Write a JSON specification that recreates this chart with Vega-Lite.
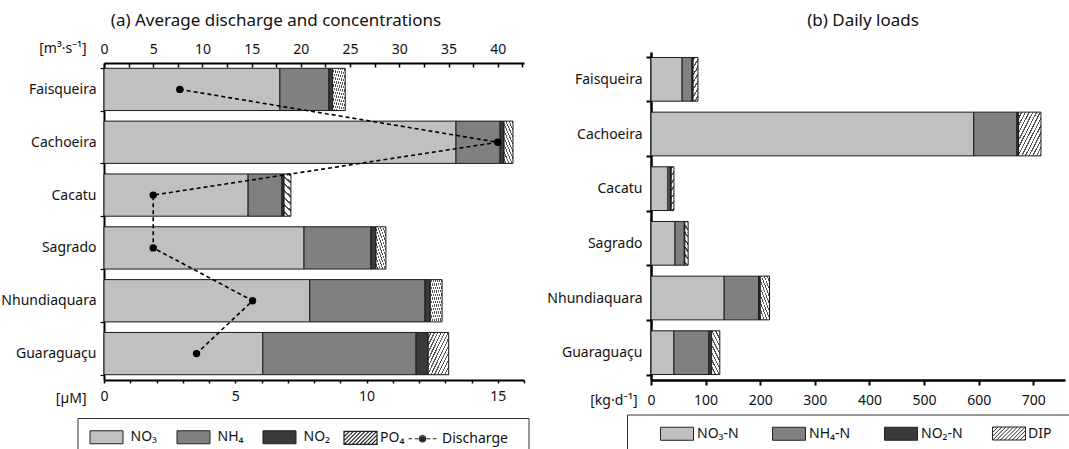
{
  "$schema": "https://vega.github.io/schema/vega-lite/v6.json",
  "background": "white",
  "padding": {"left": 0, "top": 12, "right": 0, "bottom": 0},
  "spacing": 17,
  "datasets": {
    "conc": [
      {"river": "Faisqueira", "series": "NO₃", "k": 1, "value": 6.70},
      {"river": "Faisqueira", "series": "NH₄", "k": 2, "value": 1.87},
      {"river": "Faisqueira", "series": "NO₂", "k": 3, "value": 0.14},
      {"river": "Faisqueira", "series": "PO₄", "k": 4, "value": 0.48},
      {"river": "Cachoeira", "series": "NO₃", "k": 1, "value": 13.41},
      {"river": "Cachoeira", "series": "NH₄", "k": 2, "value": 1.68},
      {"river": "Cachoeira", "series": "NO₂", "k": 3, "value": 0.15},
      {"river": "Cachoeira", "series": "PO₄", "k": 4, "value": 0.34},
      {"river": "Cacatu", "series": "NO₃", "k": 1, "value": 5.49},
      {"river": "Cacatu", "series": "NH₄", "k": 2, "value": 1.29},
      {"river": "Cacatu", "series": "NO₂", "k": 3, "value": 0.08},
      {"river": "Cacatu", "series": "PO₄", "k": 4, "value": 0.26},
      {"river": "Sagrado", "series": "NO₃", "k": 1, "value": 7.62},
      {"river": "Sagrado", "series": "NH₄", "k": 2, "value": 2.55},
      {"river": "Sagrado", "series": "NO₂", "k": 3, "value": 0.19},
      {"river": "Sagrado", "series": "PO₄", "k": 4, "value": 0.38},
      {"river": "Nhundiaquara", "series": "NO₃", "k": 1, "value": 7.84},
      {"river": "Nhundiaquara", "series": "NH₄", "k": 2, "value": 4.39},
      {"river": "Nhundiaquara", "series": "NO₂", "k": 3, "value": 0.20},
      {"river": "Nhundiaquara", "series": "PO₄", "k": 4, "value": 0.45},
      {"river": "Guaraguaçu", "series": "NO₃", "k": 1, "value": 6.05},
      {"river": "Guaraguaçu", "series": "NH₄", "k": 2, "value": 5.84},
      {"river": "Guaraguaçu", "series": "NO₂", "k": 3, "value": 0.46},
      {"river": "Guaraguaçu", "series": "PO₄", "k": 4, "value": 0.78}
    ],
    "discharge": [
      {"river": "Faisqueira", "series": "Discharge", "i": 1, "q": 7.7},
      {"river": "Cachoeira", "series": "Discharge", "i": 2, "q": 40.0},
      {"river": "Cacatu", "series": "Discharge", "i": 3, "q": 5.0},
      {"river": "Sagrado", "series": "Discharge", "i": 4, "q": 5.0},
      {"river": "Nhundiaquara", "series": "Discharge", "i": 5, "q": 15.1},
      {"river": "Guaraguaçu", "series": "Discharge", "i": 6, "q": 9.4}
    ],
    "loads": [
      {"river": "Faisqueira", "series": "NO₃-N", "k": 1, "value": 57},
      {"river": "Faisqueira", "series": "NH₄-N", "k": 2, "value": 18},
      {"river": "Faisqueira", "series": "NO₂-N", "k": 3, "value": 2},
      {"river": "Faisqueira", "series": "DIP", "k": 4, "value": 9},
      {"river": "Cachoeira", "series": "NO₃-N", "k": 1, "value": 591},
      {"river": "Cachoeira", "series": "NH₄-N", "k": 2, "value": 79},
      {"river": "Cachoeira", "series": "NO₂-N", "k": 3, "value": 3},
      {"river": "Cachoeira", "series": "DIP", "k": 4, "value": 41},
      {"river": "Cacatu", "series": "NO₃-N", "k": 1, "value": 31},
      {"river": "Cacatu", "series": "NH₄-N", "k": 2, "value": 4},
      {"river": "Cacatu", "series": "NO₂-N", "k": 3, "value": 2},
      {"river": "Cacatu", "series": "DIP", "k": 4, "value": 5},
      {"river": "Sagrado", "series": "NO₃-N", "k": 1, "value": 44},
      {"river": "Sagrado", "series": "NH₄-N", "k": 2, "value": 17},
      {"river": "Sagrado", "series": "NO₂-N", "k": 3, "value": 1},
      {"river": "Sagrado", "series": "DIP", "k": 4, "value": 6},
      {"river": "Nhundiaquara", "series": "NO₃-N", "k": 1, "value": 134},
      {"river": "Nhundiaquara", "series": "NH₄-N", "k": 2, "value": 63},
      {"river": "Nhundiaquara", "series": "NO₂-N", "k": 3, "value": 3},
      {"river": "Nhundiaquara", "series": "DIP", "k": 4, "value": 17},
      {"river": "Guaraguaçu", "series": "NO₃-N", "k": 1, "value": 42},
      {"river": "Guaraguaçu", "series": "NH₄-N", "k": 2, "value": 64},
      {"river": "Guaraguaçu", "series": "NO₂-N", "k": 3, "value": 5},
      {"river": "Guaraguaçu", "series": "DIP", "k": 4, "value": 15}
    ]
  },
  "hconcat": [
    {
      "width": 420,
      "height": 317,
      "title": {"text": "(a) Average discharge and concentrations", "fontSize": 17, "fontWeight": "normal", "font": "Noto Sans", "color": "#111", "anchor": "middle", "dx": -38, "offset": 11},
      "layer": [
        {
          "data": {"name": "conc"},
          "transform": [
            {"stack": "value", "groupby": ["river"], "sort": [{"field": "k", "order": "ascending"}], "as": ["v0", "v1"]},
            {"filter": "datum.k < 4"}
          ],
          "mark": {"type": "bar", "stroke": "#1a1a1a", "strokeWidth": 1},
          "encoding": {
            "y": {"field": "river", "type": "nominal", "sort": ["Faisqueira", "Cachoeira", "Cacatu", "Sagrado", "Nhundiaquara", "Guaraguaçu"], "title": null,
              "scale": {"paddingInner": 0.2, "paddingOuter": 0.1},
              "axis": {"domainWidth": 2, "domainColor": "#000", "tickBand": "extent", "tickSize": 4, "tickColor": "#000", "tickWidth": 1.2, "labelFontSize": 14, "labelColor": "#111", "labelPadding": 4, "labelLimit": 200}},
            "x": {"field": "v0", "type": "quantitative", "scale": {"domain": [0, 16], "nice": false},
              "axis": {"orient": "bottom", "values": [0, 1, 2, 3, 4, 5, 6, 7, 8, 9, 10, 11, 12, 13, 14, 15, 16], "labelExpr": "datum.value % 5 === 0 ? datum.label : ''", "labelOverlap": false, "labelFlush": false, "grid": false,
                "title": "[µM]", "titleX": -18, "titleY": 18, "titleAlign": "right", "titleBaseline": "middle", "titleFontSize": 14, "titleFontWeight": "normal", "titleColor": "#111",
                "domainWidth": 2, "domainColor": "#000", "tickSize": 3, "tickWidth": 1.5, "tickColor": "#000", "labelFontSize": 14, "labelColor": "#111", "labelPadding": 6}},
            "x2": {"field": "v1"},
            "color": {"field": "series", "type": "nominal",
              "scale": {"domain": ["NO₃", "NH₄", "NO₂"], "range": ["#c0c0c0", "#808080", "#3a3a3a"]},
              "legend": {"orient": "none", "legendX": -26.5, "legendY": 355, "direction": "horizontal", "title": "\u00a0", "titleOrient": "right", "titlePadding": 187, "titleFontSize": 14,
                "strokeColor": "#333", "padding": 12, "columnPadding": 17, "labelOffset": 17,
                "symbolType": "M-2.54,-1H2.54V1H-2.54Z", "symbolSize": 169, "symbolOffset": 10, "symbolStrokeColor": "#222", "symbolStrokeWidth": 1,
                "labelFontSize": 14, "labelColor": "#111"
              }}
          }
        },
        {
          "data": {"name": "conc"},
          "transform": [
            {"stack": "value", "groupby": ["river"], "sort": [{"field": "k", "order": "ascending"}], "as": ["v0", "v1"]},
            {"filter": "datum.k === 4"}
          ],
          "mark": {"type": "bar", "stroke": "#1a1a1a", "strokeWidth": 1,
            "fill": {"gradient": "linear", "x1": 0, "y1": 0, "x2": 1, "y2": 1, "stops": [{"offset": 0, "color": "#ffffff"}, {"offset": 0.055, "color": "#ffffff"}, {"offset": 0.055, "color": "#555555"}, {"offset": 0.0833, "color": "#555555"}, {"offset": 0.0833, "color": "#ffffff"}, {"offset": 0.1383, "color": "#ffffff"}, {"offset": 0.1383, "color": "#555555"}, {"offset": 0.1667, "color": "#555555"}, {"offset": 0.1667, "color": "#ffffff"}, {"offset": 0.2217, "color": "#ffffff"}, {"offset": 0.2217, "color": "#555555"}, {"offset": 0.25, "color": "#555555"}, {"offset": 0.25, "color": "#ffffff"}, {"offset": 0.305, "color": "#ffffff"}, {"offset": 0.305, "color": "#555555"}, {"offset": 0.3333, "color": "#555555"}, {"offset": 0.3333, "color": "#ffffff"}, {"offset": 0.3883, "color": "#ffffff"}, {"offset": 0.3883, "color": "#555555"}, {"offset": 0.4167, "color": "#555555"}, {"offset": 0.4167, "color": "#ffffff"}, {"offset": 0.4717, "color": "#ffffff"}, {"offset": 0.4717, "color": "#555555"}, {"offset": 0.5, "color": "#555555"}, {"offset": 0.5, "color": "#ffffff"}, {"offset": 0.555, "color": "#ffffff"}, {"offset": 0.555, "color": "#555555"}, {"offset": 0.5833, "color": "#555555"}, {"offset": 0.5833, "color": "#ffffff"}, {"offset": 0.6383, "color": "#ffffff"}, {"offset": 0.6383, "color": "#555555"}, {"offset": 0.6667, "color": "#555555"}, {"offset": 0.6667, "color": "#ffffff"}, {"offset": 0.7217, "color": "#ffffff"}, {"offset": 0.7217, "color": "#555555"}, {"offset": 0.75, "color": "#555555"}, {"offset": 0.75, "color": "#ffffff"}, {"offset": 0.805, "color": "#ffffff"}, {"offset": 0.805, "color": "#555555"}, {"offset": 0.8333, "color": "#555555"}, {"offset": 0.8333, "color": "#ffffff"}, {"offset": 0.8883, "color": "#ffffff"}, {"offset": 0.8883, "color": "#555555"}, {"offset": 0.9167, "color": "#555555"}, {"offset": 0.9167, "color": "#ffffff"}, {"offset": 0.9717, "color": "#ffffff"}, {"offset": 0.9717, "color": "#555555"}, {"offset": 1, "color": "#555555"}]}},
          "encoding": {
            "y": {"field": "river", "type": "nominal", "sort": ["Faisqueira", "Cachoeira", "Cacatu", "Sagrado", "Nhundiaquara", "Guaraguaçu"]},
            "x": {"field": "v0", "type": "quantitative", "scale": {"domain": [0, 16], "nice": false}, "axis": null},
            "x2": {"field": "v1"}
          }
        },
        {
          "data": {"name": "discharge"},
          "mark": {"type": "line", "color": "#000000", "strokeDash": [4, 3], "strokeWidth": 1.6, "point": {"filled": true, "size": 55, "color": "#000000", "opacity": 1}},
          "encoding": {
            "y": {"field": "river", "type": "nominal", "sort": ["Faisqueira", "Cachoeira", "Cacatu", "Sagrado", "Nhundiaquara", "Guaraguaçu"]},
            "x": {"field": "q", "type": "quantitative", "scale": {"domain": [0, 42.667], "nice": false},
              "axis": {"orient": "top", "values": [0, 2.5, 5, 7.5, 10, 12.5, 15, 17.5, 20, 22.5, 25, 27.5, 30, 32.5, 35, 37.5, 40, 42.5], "labelExpr": "datum.value % 5 === 0 ? datum.label : ''", "labelOverlap": false, "labelFlush": false, "grid": false,
                "title": "[m³·s⁻¹]", "titleX": -18, "titleY": -15, "titleAlign": "right", "titleBaseline": "middle", "titleFontSize": 14, "titleFontWeight": "normal", "titleColor": "#111",
                "domainWidth": 2, "domainColor": "#000", "tickSize": -4, "tickWidth": 1.5, "tickColor": "#000", "labelFontSize": 14, "labelColor": "#111", "labelPadding": 11}},
            "order": {"field": "i"}
          }
        },
        {
          "data": {"name": "discharge"},
          "mark": {"type": "point", "filled": false, "opacity": 0, "color": "#000000", "strokeWidth": 1.2},
          "encoding": {
            "y": {"field": "river", "type": "nominal", "sort": ["Faisqueira", "Cachoeira", "Cacatu", "Sagrado", "Nhundiaquara", "Guaraguaçu"]},
            "x": {"field": "q", "type": "quantitative", "scale": {"domain": [0, 42.667], "nice": false}, "axis": null},
            "shape": {"field": "series", "type": "nominal",
              "scale": {"domain": ["PO₄", "Discharge"], "range": [
                "M-2.54,-1H2.54V1H-2.54Z M-2.54,-0.76L-2.3,-1 M-2.54,-0.16L-1.7,-1 M-2.54,0.44L-1.1,-1 M-2.5,1L-0.5,-1 M-1.9,1L0.1,-1 M-1.3,1L0.7,-1 M-0.7,1L1.3,-1 M-0.1,1L1.9,-1 M0.5,1L2.5,-1 M1.1,1L2.54,-0.44 M1.7,1L2.54,0.16 M2.3,1L2.54,0.76",
                "M-2.15,0H-1.6M-1.2,0H-0.65M0.65,0H1.2M1.6,0H2.15M0.5,0A0.5,0.5,0,1,1,-0.5,0A0.5,0.5,0,1,1,0.5,0M0.3,0A0.3,0.3,0,1,1,-0.3,0A0.3,0.3,0,1,1,0.3,0M0.12,0A0.12,0.12,0,1,1,-0.12,0A0.12,0.12,0,1,1,0.12,0"
              ]},
              "legend": {"orient": "none", "legendX": 239, "legendY": 367, "direction": "horizontal", "title": null, "padding": 0, "columnPadding": -16,
                "symbolSize": 169, "symbolOffset": 10, "symbolOpacity": 1, "symbolStrokeColor": "#222222", "symbolStrokeWidth": 1.2,
                "labelOffset": 12, "labelFontSize": 14, "labelColor": "#111"}}
          }
        }
      ],
      "resolve": {"scale": {"x": "independent"}}
    },
    {
      "width": 414,
      "height": 317,
      "title": {"text": "(b) Daily loads", "fontSize": 17, "fontWeight": "normal", "font": "Noto Sans", "color": "#111", "anchor": "middle", "dx": 5, "offset": 26},
      "layer": [
        {
          "data": {"name": "loads"},
          "transform": [
            {"stack": "value", "groupby": ["river"], "sort": [{"field": "k", "order": "ascending"}], "as": ["v0", "v1"]},
            {"filter": "datum.k < 4"}
          ],
          "mark": {"type": "bar", "stroke": "#1a1a1a", "strokeWidth": 1},
          "encoding": {
            "y": {"field": "river", "type": "nominal", "sort": ["Faisqueira", "Cachoeira", "Cacatu", "Sagrado", "Nhundiaquara", "Guaraguaçu"], "title": null,
              "scale": {"paddingInner": 0.2, "paddingOuter": 0.1, "range": [-11, 317]},
              "axis": {"domainWidth": 2.5, "domainColor": "#000", "tickBand": "extent", "tickSize": 5, "tickColor": "#000", "tickWidth": 2, "labelFontSize": 14, "labelColor": "#111", "labelPadding": 4, "labelLimit": 200}},
            "x": {"field": "v0", "type": "quantitative", "scale": {"domain": [0, 758], "nice": false},
              "axis": {"orient": "bottom", "values": [0, 100, 200, 300, 400, 500, 600, 700], "labelOverlap": false, "labelFlush": false, "grid": false,
                "title": "[kg·d⁻¹]", "titleX": -14, "titleY": 20, "titleAlign": "right", "titleBaseline": "middle", "titleFontSize": 14, "titleFontWeight": "normal", "titleColor": "#111",
                "domainWidth": 2.5, "domainColor": "#000", "tickSize": 5, "tickWidth": 2, "tickColor": "#000", "labelFontSize": 14, "labelColor": "#111", "labelPadding": 8}},
            "x2": {"field": "v1"},
            "color": {"field": "series", "type": "nominal",
              "scale": {"domain": ["NO₃-N", "NH₄-N", "NO₂-N"], "range": ["#c0c0c0", "#808080", "#3a3a3a"]},
              "legend": {"orient": "none", "legendX": -24, "legendY": 351.5, "direction": "horizontal", "title": "\u00a0", "titleOrient": "right", "titlePadding": 160, "titleFontSize": 14,
                "strokeColor": "#333", "padding": 12, "columnPadding": 12, "labelOffset": 13, "gridAlign": "all",
                "symbolType": "M-2.54,-1H2.54V1H-2.54Z", "symbolSize": 169, "symbolOffset": 31, "symbolStrokeColor": "#222", "symbolStrokeWidth": 1,
                "labelFontSize": 14, "labelColor": "#111"
              }}
          }
        },
        {
          "data": {"name": "loads"},
          "transform": [
            {"stack": "value", "groupby": ["river"], "sort": [{"field": "k", "order": "ascending"}], "as": ["v0", "v1"]},
            {"filter": "datum.k === 4"}
          ],
          "mark": {"type": "bar", "stroke": "#1a1a1a", "strokeWidth": 1,
            "fill": {"gradient": "linear", "x1": 0, "y1": 0, "x2": 1, "y2": 1, "stops": [{"offset": 0, "color": "#ffffff"}, {"offset": 0.055, "color": "#ffffff"}, {"offset": 0.055, "color": "#555555"}, {"offset": 0.0833, "color": "#555555"}, {"offset": 0.0833, "color": "#ffffff"}, {"offset": 0.1383, "color": "#ffffff"}, {"offset": 0.1383, "color": "#555555"}, {"offset": 0.1667, "color": "#555555"}, {"offset": 0.1667, "color": "#ffffff"}, {"offset": 0.2217, "color": "#ffffff"}, {"offset": 0.2217, "color": "#555555"}, {"offset": 0.25, "color": "#555555"}, {"offset": 0.25, "color": "#ffffff"}, {"offset": 0.305, "color": "#ffffff"}, {"offset": 0.305, "color": "#555555"}, {"offset": 0.3333, "color": "#555555"}, {"offset": 0.3333, "color": "#ffffff"}, {"offset": 0.3883, "color": "#ffffff"}, {"offset": 0.3883, "color": "#555555"}, {"offset": 0.4167, "color": "#555555"}, {"offset": 0.4167, "color": "#ffffff"}, {"offset": 0.4717, "color": "#ffffff"}, {"offset": 0.4717, "color": "#555555"}, {"offset": 0.5, "color": "#555555"}, {"offset": 0.5, "color": "#ffffff"}, {"offset": 0.555, "color": "#ffffff"}, {"offset": 0.555, "color": "#555555"}, {"offset": 0.5833, "color": "#555555"}, {"offset": 0.5833, "color": "#ffffff"}, {"offset": 0.6383, "color": "#ffffff"}, {"offset": 0.6383, "color": "#555555"}, {"offset": 0.6667, "color": "#555555"}, {"offset": 0.6667, "color": "#ffffff"}, {"offset": 0.7217, "color": "#ffffff"}, {"offset": 0.7217, "color": "#555555"}, {"offset": 0.75, "color": "#555555"}, {"offset": 0.75, "color": "#ffffff"}, {"offset": 0.805, "color": "#ffffff"}, {"offset": 0.805, "color": "#555555"}, {"offset": 0.8333, "color": "#555555"}, {"offset": 0.8333, "color": "#ffffff"}, {"offset": 0.8883, "color": "#ffffff"}, {"offset": 0.8883, "color": "#555555"}, {"offset": 0.9167, "color": "#555555"}, {"offset": 0.9167, "color": "#ffffff"}, {"offset": 0.9717, "color": "#ffffff"}, {"offset": 0.9717, "color": "#555555"}, {"offset": 1, "color": "#555555"}]}},
          "encoding": {
            "y": {"field": "river", "type": "nominal", "sort": ["Faisqueira", "Cachoeira", "Cacatu", "Sagrado", "Nhundiaquara", "Guaraguaçu"]},
            "x": {"field": "v0", "type": "quantitative"},
            "x2": {"field": "v1"}
          }
        },
        {
          "data": {"name": "loads"},
          "transform": [{"filter": "datum.k === 4"}],
          "mark": {"type": "point", "filled": false, "opacity": 0, "color": "#000000", "strokeWidth": 1},
          "encoding": {
            "y": {"field": "river", "type": "nominal", "sort": ["Faisqueira", "Cachoeira", "Cacatu", "Sagrado", "Nhundiaquara", "Guaraguaçu"]},
            "x": {"field": "value", "type": "quantitative"},
            "shape": {"field": "series", "type": "nominal",
              "scale": {"domain": ["DIP"], "range": ["M-2.54,-1H2.54V1H-2.54Z M-2.54,-0.76L-2.3,-1 M-2.54,-0.16L-1.7,-1 M-2.54,0.44L-1.1,-1 M-2.5,1L-0.5,-1 M-1.9,1L0.1,-1 M-1.3,1L0.7,-1 M-0.7,1L1.3,-1 M-0.1,1L1.9,-1 M0.5,1L2.5,-1 M1.1,1L2.54,-0.44 M1.7,1L2.54,0.16 M2.3,1L2.54,0.76"]},
              "legend": {"orient": "none", "legendX": 341, "legendY": 363.5, "direction": "horizontal", "title": null, "padding": 0,
                "symbolSize": 169, "symbolOffset": 10, "symbolOpacity": 1, "symbolStrokeColor": "#222222", "symbolStrokeWidth": 1,
                "labelOffset": 12, "labelFontSize": 14, "labelColor": "#111"}}
          }
        }
      ]
    }
  ],
  "resolve": {"scale": {"color": "independent", "shape": "independent"}, "legend": {"color": "independent", "shape": "independent"}},
  "config": {
    "font": "Noto Sans",
    "view": {"stroke": null},
    "axis": {"labelFont": "Noto Sans", "titleFont": "Noto Sans"},
    "legend": {"labelFont": "Noto Sans", "titleFont": "Noto Sans"}
  }
}
